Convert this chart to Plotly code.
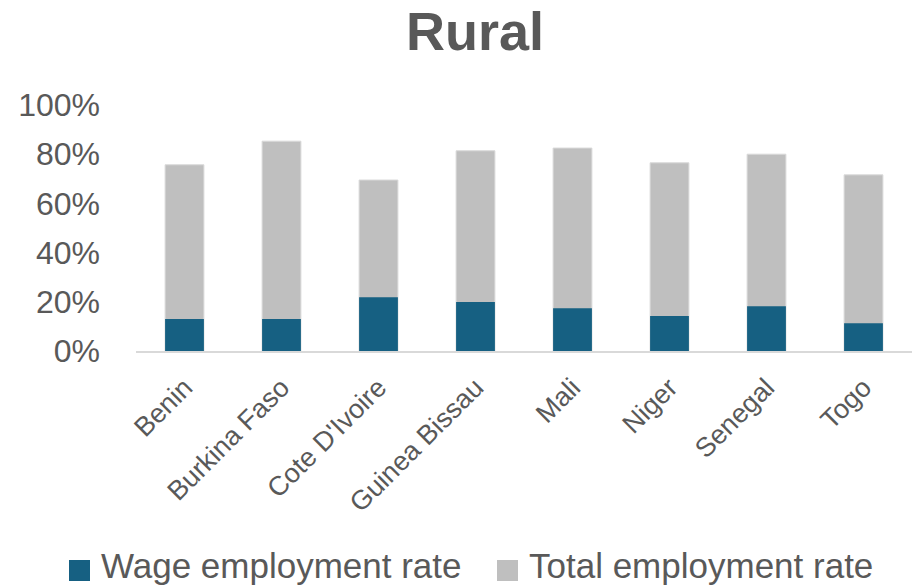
import plotly.graph_objects as go

# Rural employment rates by country (share of working-age population)
countries = ["Benin", "Burkina Faso", "Cote D'Ivoire", "Guinea Bissau",
             "Mali", "Niger", "Senegal", "Togo"]
wage_rate = [0.130, 0.130, 0.219, 0.199, 0.174, 0.142, 0.182, 0.113]
total_rate = [0.757, 0.853, 0.695, 0.814, 0.825, 0.765, 0.800, 0.716]
y_ticks = [0, 0.2, 0.4, 0.6, 0.8, 1.0]
y_tick_text = ["0%", "20%", "40%", "60%", "80%", "100%"]
legend_names = ["Wage employment rate", "Total employment rate"]

W, H = 914, 587
TEXT = "#595959"
WAGE_C = "#166082"
TOTAL_C = "#BFBFBF"
FONT = "Liberation Sans, Arial, sans-serif"

# plot area in pixels
L, R, T, B = 136, 912, 105, 351


def px_x(px):
    return (px - L) / (R - L)


def px_y(py):
    return (B - py) / (B - T)


fig = go.Figure()
fig.add_trace(go.Bar(
    x=countries, y=total_rate, name=legend_names[1],
    marker=dict(color=TOTAL_C, line=dict(color="#D9D9D9", width=1)),
))
fig.add_trace(go.Bar(
    x=countries, y=wage_rate, name=legend_names[0],
    marker=dict(color=WAGE_C, line=dict(width=0)),
))

# Bottom legend: square swatch followed by its label
legend_items = [(legend_names[0], WAGE_C, 69, 99),
                (legend_names[1], TOTAL_C, 497, 527)]
for name, color, sx, tx in legend_items:
    fig.add_shape(
        type="rect", xref="paper", yref="paper",
        x0=px_x(sx), x1=px_x(sx + 21), y0=px_y(581), y1=px_y(560),
        fillcolor=color, line=dict(width=0),
    )
    fig.add_annotation(
        text=name, xref="paper", yref="paper",
        x=px_x(tx), y=px_y(565), xanchor="left", yanchor="middle",
        showarrow=False, font=dict(size=35, color=TEXT, family=FONT),
    )

fig.update_layout(
    width=W, height=H,
    barmode="overlay", bargap=0.6,
    paper_bgcolor="white", plot_bgcolor="white",
    margin=dict(l=L, r=W - R, t=T, b=H - B, autoexpand=False),
    font=dict(family=FONT, color=TEXT),
    showlegend=False,
    title=dict(
        text="<b>Rural</b>", font=dict(size=54, color=TEXT, family=FONT),
        xref="container", x=475 / W, xanchor="center",
        yref="container", y=1 - 31 / H, yanchor="middle",
    ),
)
fig.update_yaxes(
    range=[0, 1.0], tickvals=y_ticks, ticktext=y_tick_text,
    showgrid=False, zeroline=False, showline=False,
    tickfont=dict(size=32, color=TEXT), ticklabelstandoff=35,
)
fig.update_xaxes(
    showline=True, linecolor="#D9D9D9", linewidth=2,
    showgrid=False, tickangle=-45, automargin=False,
    tickfont=dict(size=27, color=TEXT), ticklabelstandoff=8,
)

fig.write_html("out.html")
